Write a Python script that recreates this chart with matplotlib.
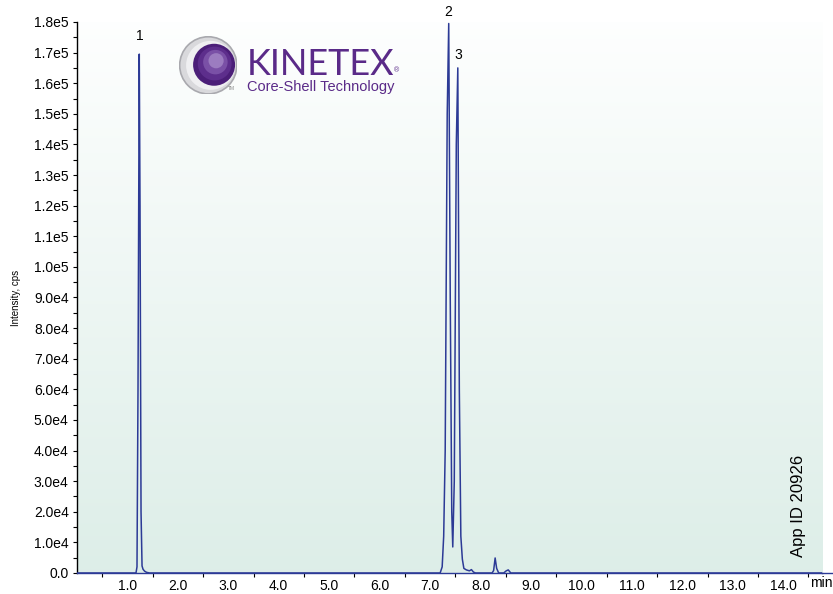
import numpy as np
import matplotlib.pyplot as plt
from matplotlib.patches import Circle
from matplotlib.lines import Line2D

# chromatogram trace (time in min, intensity in cps)
time_min = [0.00, 1.17, 1.19, 1.21, 1.235, 1.25, 1.27, 1.29, 1.31, 1.34, 1.38, 1.44,
            7.20, 7.24, 7.27, 7.30, 7.34, 7.37, 7.40, 7.43, 7.45, 7.48, 7.52, 7.55,
            7.58, 7.61, 7.64, 7.67, 7.72, 7.78, 7.82, 7.86, 7.90,
            8.23, 8.26, 8.29, 8.32, 8.36, 8.46, 8.51, 8.55, 8.60, 14.77]
intensity = [0, 0, 2000, 60000, 169500, 120000, 20000, 2300, 1200, 600, 200, 0,
             0, 2000, 12000, 40000, 150000, 179500, 90000, 20000, 8500, 30000, 140000, 165000,
             60000, 12000, 4500, 1500, 1000, 700, 1100, 300, 0,
             0, 800, 4900, 1500, 0, 0, 700, 1000, 0, 0]

peak_ids = ["1", "2", "3"]
peak_times = [1.24, 7.36, 7.55]
peak_heights = [169500, 179500, 165000]
label_gap = [8, 3.5, 4]

y_ticks = np.arange(0, 180001, 10000)
y_labels = ["0.0"] + [f"{v / 10 ** int(np.log10(v)):.1f}e{int(np.log10(v))}" for v in y_ticks[1:]]
x_ticks = np.arange(1, 15)
x_labels = [f"{v:.1f}" for v in x_ticks]

plt.rcParams["font.family"] = ["Liberation Sans", "DejaVu Sans"]

fig = plt.figure(figsize=(8.33, 5.94), dpi=100)
ax = fig.add_axes([0.0924, 0.0354, 0.8944, 0.9276])

# soft white-to-mint gradient behind the trace
grad = np.linspace(0, 1, 256).reshape(-1, 1)
top_c = np.array([0.995, 0.998, 0.997])
bot_c = np.array([0.867, 0.933, 0.910])
img = top_c + (bot_c - top_c) * grad[:, :, None] * np.ones((1, 2, 1))
ax.imshow(img, extent=[0, 14.77, 0, 180000], aspect="auto", origin="upper", zorder=0)

ax.plot(time_min, intensity, color="#2c3a96", lw=1.1, zorder=3)

ax.set_xlim(0, 14.77)
ax.set_ylim(0, 180000)
ax.set_xticks(x_ticks)
ax.set_xticklabels(x_labels, fontsize=10)
ax.set_xticks(np.arange(0.5, 14.8, 0.5), minor=True)
ax.set_yticks(y_ticks)
ax.set_yticklabels(y_labels, fontsize=10)
ax.set_yticks(np.arange(5000, 180000, 10000), minor=True)
ax.tick_params(which="both", direction="out", length=3, width=0.8, pad=3)
ax.tick_params(axis="x", which="major", length=0, pad=4)
for s in ["top", "right"]:
    ax.spines[s].set_visible(False)
ax.spines["left"].set_linewidth(1.0)
ax.spines["bottom"].set_color("#2c3a96")
ax.spines["bottom"].set_linewidth(1.0)

# axis line runs on past the plot area
fig.add_artist(Line2D([0.9868, 1.0], [0.0354, 0.0354], color="#2c3a96", lw=1.0,
                      transform=fig.transFigure))

ax.set_ylabel("Intensity, cps", fontsize=7, labelpad=8)
ax.yaxis.set_label_coords(-0.075, 0.5)
fig.text(0.972, 0.018, "min", fontsize=10, ha="left", va="center")

for pid, t, h, gap in zip(peak_ids, peak_times, peak_heights, label_gap):
    ax.annotate(pid, (t, h), xytext=(0, gap), textcoords="offset points",
                ha="center", va="bottom", fontsize=10)

ax.text(14.3, 22000, "App ID 20926", rotation=90, fontsize=12, ha="center", va="center")

# KINETEX logo
sphere_ax = fig.add_axes([0.215, 0.84, 0.07, 0.1], aspect="equal")
sphere_ax.set_xlim(-1, 1)
sphere_ax.set_ylim(-1, 1)
sphere_ax.axis("off")
sphere_ax.add_patch(Circle((0, 0), 0.98, facecolor="#d9d9dc", edgecolor="#a9a9ae", lw=1.2))
sphere_ax.add_patch(Circle((0.08, 0.0), 0.84, facecolor="#efeff1", edgecolor="none"))
for r, c in zip([0.72, 0.58, 0.42, 0.26], ["#4b1e78", "#5d2e8c", "#7a50a6", "#9c7cc0"]):
    sphere_ax.add_patch(Circle((0.2 + (0.72 - r) * 0.15, 0.02 + (0.72 - r) * 0.3), r,
                               facecolor=c, edgecolor="none"))
fig.text(0.274, 0.848, "TM", fontsize=3.5, color="#888888")
fig.text(0.2965, 0.874, "KINETEX", fontsize=26, color="#5a2a88",
         fontfamily="Lato", ha="left", va="baseline")
fig.text(0.473, 0.879, "®", fontsize=5, color="#5a2a88")
fig.text(0.297, 0.846, "Core-Shell Technology", fontsize=10.5, color="#5a2a88",
         ha="left", va="baseline")

fig.savefig("out.png", dpi=100)
